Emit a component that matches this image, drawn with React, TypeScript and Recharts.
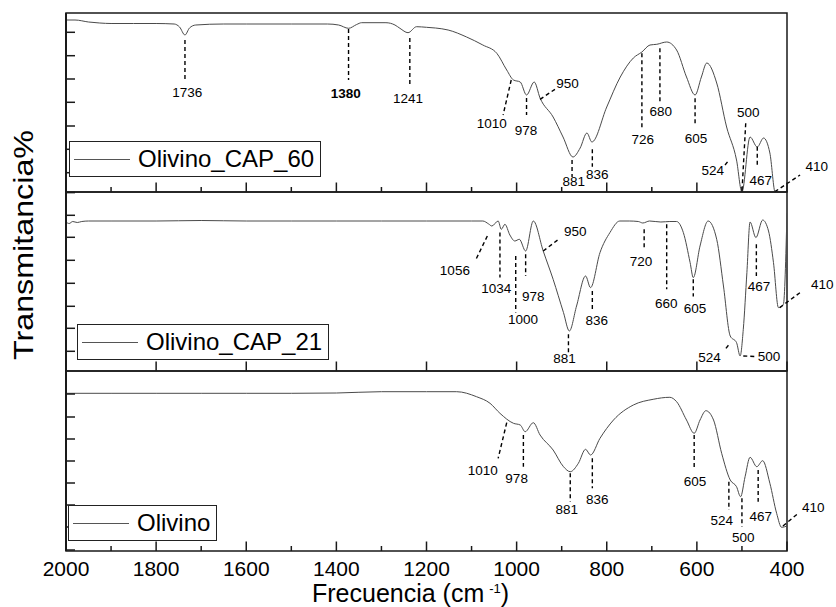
import React from 'react';
import {
  LineChart,
  Line,
  XAxis,
  YAxis,
  ReferenceLine,
  ReferenceDot,
  ReferenceArea,
  Legend,
} from 'recharts';

const FONT = '"Liberation Sans", Arial, Helvetica, sans-serif';

// eje X: numero de onda (cm-1); las de 200 en 200 son las marcas principales
const majorTicks = [2000, 1800, 1600, 1400, 1200, 1000, 800, 600, 400];
const allTicks = [2000, 1900, 1800, 1700, 1600, 1500, 1400, 1300, 1200, 1100, 1000, 900, 800, 700, 600, 500, 400];

// Olivino_CAP_60 (panel superior, unidades arbitrarias)
const cap60Wn = [2000, 1980, 1950, 1925, 1900, 1850, 1800, 1760, 1748, 1736, 1726, 1712, 1650, 1600, 1500, 1420, 1395, 1373, 1355, 1344, 1290, 1270, 1259, 1241, 1222, 1200, 1180, 1152, 1111, 1075, 1044, 1022, 1007, 992, 978, 961, 948, 919, 897, 875, 859, 844, 833, 800, 770, 741, 722, 704, 689, 667, 645, 623, 604, 590, 578, 556, 534, 512, 500, 482, 466, 452, 438, 427, 415, 400];
const cap60T = [172, 172, 170, 169, 168.5, 168.5, 168.5, 168, 165, 157, 164, 167, 168, 168, 168, 168, 167, 163.7, 167.5, 169.3, 169.3, 167, 163.7, 159.3, 165.3, 164.7, 164, 162, 155, 147, 138.7, 122, 112, 110, 97, 110, 94, 75, 55, 35, 44, 59, 50, 85, 115, 134, 140, 147, 147.7, 150, 142, 115, 97, 115, 129, 109, 65, 32, 0, 55, 45, 54, 39, 0, -8, -8];

// Olivino_CAP_21 (panel central)
const cap21Wn = [2000, 1993, 1985, 1975, 1965, 1950, 1900, 1800, 1700, 1600, 1500, 1400, 1300, 1200, 1100, 1075, 1062, 1055, 1041, 1034, 1026, 1015, 1004, 994, 980, 963, 941, 919, 896, 883, 867, 847, 836, 815, 793, 771, 750, 730, 720, 705, 680, 660, 645, 630, 615, 608, 593, 575, 556, 541, 526, 512, 504, 497, 489, 482, 469, 454, 441, 430, 419, 408, 400];
const cap21T = [149, 147.5, 149.5, 148.5, 149.5, 150, 150, 150, 150.5, 150, 150, 150, 150, 150, 150, 150, 147, 145, 150, 141.7, 146.7, 136, 130, 131.7, 120, 150, 120, 91.7, 58.4, 40, 65, 95, 83.4, 118.4, 138.4, 150, 150, 149.5, 148, 150, 149, 149.5, 149.5, 138.4, 108.4, 93.4, 125, 150, 131.7, 85, 35, 28.4, 15, 41.7, 98.4, 149, 133.4, 151, 140, 108.4, 63.4, 66.7, 158];

// Olivino (panel inferior)
const olivWn = [2000, 1900, 1800, 1700, 1600, 1500, 1400, 1300, 1200, 1133, 1089, 1059, 1037, 1007, 992, 981, 963, 948, 919, 896, 881, 863, 847, 836, 815, 785, 741, 697, 660, 645, 623, 606, 593, 580, 563, 545, 526, 512, 503, 493, 482, 467, 454, 438, 423, 412, 400];
const olivT = [157.7, 157.7, 157.7, 157.7, 157.7, 157.7, 158, 159.3, 159.3, 159.3, 154.3, 147.7, 137.7, 127.7, 126, 119.3, 128.3, 116, 101, 84.3, 79.3, 87.7, 101.7, 96, 112.7, 131, 146, 151.7, 153.7, 149.3, 131, 117.7, 131, 140.3, 131, 97.7, 71, 64.3, 54.3, 74.3, 93.7, 84.3, 90.3, 67.7, 37.7, 23.7, 25];

// marcas del eje Y (sin etiquetas)
const cap60YTicks = [19.3, 42.7, 66, 89.7, 113, 136.3, 159.7];
const cap21YTicks = [19.7, 42.7, 64.7, 87.7, 110.7, 133.7, 155.7, 178.4];
const olivYTicks = [1, 24, 46, 68, 90, 112, 134, 157];

type Peak = { label: string; x1: number; y1: number; x2: number; y2: number; tx: number; ty: number; bold?: boolean };

// asignacion de bandas: linea guia (x1,y1)-(x2,y2) y posicion del texto
const cap60Peaks: Peak[] = [
  { label: '1736', x1: 1736, y1: 152, x2: 1736, y2: 111, tx: 1731, ty: 100 },
  { label: '1380', x1: 1373, y1: 163, x2: 1373, y2: 112, tx: 1379, ty: 98.5, bold: true },
  { label: '1241', x1: 1237, y1: 154, x2: 1237, y2: 105, tx: 1241, ty: 94 },
  { label: '1010', x1: 1012, y1: 112, x2: 1030, y2: 77, tx: 1055, ty: 69 },
  { label: '978', x1: 978, y1: 94, x2: 978, y2: 77, tx: 979, ty: 62 },
  { label: '950', x1: 948, y1: 92.7, x2: 915, y2: 102.7, tx: 887, ty: 109 },
  { label: '881', x1: 877, y1: 32, x2: 877, y2: 15, tx: 873, ty: 11 },
  { label: '836', x1: 832, y1: 42.7, x2: 832, y2: 25.3, tx: 821, ty: 18 },
  { label: '726', x1: 722, y1: 138.7, x2: 722, y2: 62, tx: 720, ty: 52.5 },
  { label: '680', x1: 682, y1: 143.7, x2: 682, y2: 90.3, tx: 680, ty: 80.5 },
  { label: '605', x1: 604, y1: 93.7, x2: 604, y2: 68.7, tx: 602, ty: 54 },
  { label: '524', x1: 537.5, y1: 27, x2: 530, y2: 31.3, tx: 565, ty: 22 },
  { label: '500', x1: 491.6, y1: 68.7, x2: 500, y2: 0, tx: 486, ty: 80 },
  { label: '467', x1: 466, y1: 45.3, x2: 466, y2: 27, tx: 458, ty: 12 },
  { label: '410', x1: 427, y1: 0.3, x2: 371, y2: 17, tx: 334, ty: 26 },
];

const cap21Peaks: Peak[] = [
  { label: '1056', x1: 1065, y1: 135, x2: 1092, y2: 110, tx: 1137, ty: 101 },
  { label: '1034', x1: 1037, y1: 138.4, x2: 1037, y2: 93.4, tx: 1045, ty: 82.7 },
  { label: '1000', x1: 1002, y1: 115, x2: 1002, y2: 58.4, tx: 986, ty: 52 },
  { label: '978', x1: 980, y1: 116.7, x2: 980, y2: 95, tx: 963, ty: 74.7 },
  { label: '950', x1: 941, y1: 120, x2: 907, y2: 131.7, tx: 870, ty: 139.7 },
  { label: '881', x1: 885, y1: 36.7, x2: 885, y2: 18.4, tx: 894, ty: 12.7 },
  { label: '836', x1: 832, y1: 80, x2: 832, y2: 61.7, tx: 822, ty: 50.7 },
  { label: '720', x1: 717, y1: 141.7, x2: 717, y2: 123.4, tx: 724, ty: 110 },
  { label: '660', x1: 667, y1: 146.7, x2: 667, y2: 81.7, tx: 668, ty: 67.7 },
  { label: '605', x1: 608, y1: 91.7, x2: 608, y2: 74.4, tx: 604, ty: 62.7 },
  { label: '524', x1: 530, y1: 25.7, x2: 537, y2: 21.7, tx: 572, ty: 13.7 },
  { label: '500', x1: 497, y1: 15, x2: 471, y2: 14.5, tx: 440, ty: 14.2 },
  { label: '467', x1: 468, y1: 126.7, x2: 468, y2: 95, tx: 462, ty: 84.7 },
  { label: '410', x1: 416, y1: 63.4, x2: 371, y2: 78.4, tx: 322, ty: 86.7 },
];

const olivPeaks: Peak[] = [
  { label: '1010', x1: 1022, y1: 128.3, x2: 1041, y2: 92.7, tx: 1075, ty: 81 },
  { label: '978', x1: 985, y1: 116, x2: 985, y2: 84.3, tx: 1000, ty: 73 },
  { label: '881', x1: 881, y1: 77.7, x2: 881, y2: 49.3, tx: 889, ty: 42 },
  { label: '836', x1: 832, y1: 92.7, x2: 832, y2: 62.7, tx: 821, ty: 52 },
  { label: '605', x1: 606, y1: 116, x2: 606, y2: 82.7, tx: 604, ty: 70 },
  { label: '524', x1: 529, y1: 69.3, x2: 529, y2: 41, tx: 545, ty: 31 },
  { label: '500', x1: 500, y1: 52.7, x2: 500, y2: 24.3, tx: 497, ty: 13.5 },
  { label: '467', x1: 464, y1: 81, x2: 464, y2: 49.3, tx: 458, ty: 34.5 },
  { label: '410', x1: 409, y1: 25, x2: 375, y2: 37.7, tx: 341.5, ty: 43.5 },
];

const AXIS = '#1a1a1a';

// marcas hacia dentro: largas cada 200, cortas cada 100
function XTick({ x, y, payload, labels }: any) {
  const major = payload.value % 200 === 0;
  return (
    <g>
      <line x1={x} x2={x} y1={y} y2={y - (major ? 9.5 : 5)} stroke={AXIS} strokeWidth={1.5} />
      {labels && major && (
        <text x={x} y={y + 25} textAnchor="middle" fontFamily={FONT} fontSize={21} fill="#000">
          {payload.value}
        </text>
      )}
    </g>
  );
}

function YTick({ x, y }: any) {
  return <line x1={x} x2={x + 9} y1={y} y2={y} stroke={AXIS} strokeWidth={1.5} />;
}

function LegendBox({ name }: { name: string }) {
  return (
    <div
      style={{
        display: 'inline-flex',
        alignItems: 'center',
        boxSizing: 'border-box',
        height: 36,
        border: '1px solid #222',
        background: '#fff',
        padding: '0 6px 0 4px',
        fontFamily: FONT,
        fontSize: 24,
        lineHeight: 1,
        color: '#000',
        whiteSpace: 'nowrap',
      }}
    >
      <span style={{ display: 'inline-block', width: 56, borderTop: '1px solid #555', marginRight: 8 }} />
      <span>{name}</span>
    </div>
  );
}

interface PanelProps {
  wn: number[];
  t: number[];
  yMax: number;
  yTicks: number[];
  xTicks: number[];
  peaks: Peak[];
  name: string;
  labels: boolean;
  top: number;
  height: number;
  margin: { top: number; right: number; bottom: number; left: number };
  legendLeft: number;
  legendTop: number;
}

function Panel({ wn, t, yMax, yTicks, xTicks, peaks, name, labels, top, height, margin, legendLeft, legendTop }: PanelProps) {
  const data = wn.map((w, i) => ({ wn: w, t: t[i] }));
  return (
    <div style={{ position: 'absolute', left: 0, top }}>
      <LineChart width={836} height={height} data={data} margin={margin}>
        <XAxis
          dataKey="wn"
          type="number"
          domain={[400, 2000]}
          reversed
          allowDataOverflow
          ticks={xTicks}
          interval={0}
          height={1}
          tickSize={0}
          tickMargin={0}
          axisLine={false}
          tickLine={false}
          tick={(props: any) => <XTick {...props} labels={labels} />}
        />
        <YAxis
          type="number"
          domain={[0, yMax]}
          allowDataOverflow
          ticks={yTicks}
          interval={0}
          width={1}
          tickSize={0}
          tickMargin={0}
          tickLine={false}
          tick={(props: any) => <YTick {...props} />}
          axisLine={{ stroke: AXIS, strokeWidth: 2 }}
        />
        <ReferenceArea x1={2000} x2={400} y1={0} y2={yMax} fill="none" stroke={AXIS} strokeWidth={1.5} ifOverflow="visible" />
        <Line dataKey="t" type="monotone" stroke="#4a4a4a" strokeWidth={1} dot={false} isAnimationActive={false} />
        {peaks.map((p, i) => (
          <ReferenceLine
            key={'l' + i}
            segment={[{ x: p.x1, y: p.y1 }, { x: p.x2, y: p.y2 }]}
            stroke="#000"
            strokeWidth={1.4}
            strokeDasharray="4 3"
            ifOverflow="visible"
          />
        ))}
        {peaks.map((p, i) => (
          <ReferenceDot
            key={'t' + i}
            x={p.tx}
            y={p.ty}
            ifOverflow="visible"
            shape={(s: any) => (
              <text
                x={s.cx}
                y={s.cy}
                textAnchor="middle"
                dominantBaseline="central"
                fontFamily={FONT}
                fontSize={13.5}
                fontWeight={p.bold ? 'bold' : 'normal'}
                fill="#000"
              >
                {p.label}
              </text>
            )}
          />
        ))}
        <Legend
          layout="horizontal"
          verticalAlign="middle"
          align="center"
          wrapperStyle={{ left: legendLeft, top: legendTop, width: 'auto', height: 'auto' }}
          content={() => <LegendBox name={name} />}
        />
      </LineChart>
    </div>
  );
}

export default function App() {
  return (
    <div style={{ position: 'absolute', left: 0, top: 0, width: 836, height: 607, background: '#fff' }}>
      <Panel
        wn={cap60Wn}
        t={cap60T}
        yMax={179}
        yTicks={cap60YTicks}
        xTicks={allTicks}
        peaks={cap60Peaks}
        name="Olivino_CAP_60"
        labels={false}
        top={0}
        height={198}
        margin={{ top: 13, right: 49, bottom: 5, left: 65 }}
        legendLeft={69}
        legendTop={141}
      />
      <Panel
        wn={cap21Wn}
        t={cap21T}
        yMax={179}
        yTicks={cap21YTicks}
        xTicks={majorTicks}
        peaks={cap21Peaks}
        name="Olivino_CAP_21"
        labels={false}
        top={187}
        height={189}
        margin={{ top: 5, right: 49, bottom: 4, left: 65 }}
        legendLeft={77}
        legendTop={137}
      />
      <Panel
        wn={olivWn}
        t={olivT}
        yMax={180}
        yTicks={olivYTicks}
        xTicks={allTicks}
        peaks={olivPeaks}
        name="Olivino"
        labels
        top={366}
        height={241}
        margin={{ top: 5, right: 49, bottom: 55, left: 65 }}
        legendLeft={68}
        legendTop={139}
      />
      <svg width={836} height={607} style={{ position: 'absolute', left: 0, top: 0, pointerEvents: 'none' }}>
        <text
          transform="translate(33,245) rotate(-90)"
          textAnchor="middle"
          fontFamily={FONT}
          fontSize={28}
          textLength={230}
          lengthAdjust="spacingAndGlyphs"
          fill="#000"
        >
          Transmitancia%
        </text>
        <text x={312} y={602} fontFamily={FONT} fontSize={25} fill="#000">
          Frecuencia (cm
          <tspan dx={5} dy={-9} fontSize={13}>
            -1
          </tspan>
          <tspan dy={9} fontSize={25}>
            )
          </tspan>
        </text>
      </svg>
    </div>
  );
}
